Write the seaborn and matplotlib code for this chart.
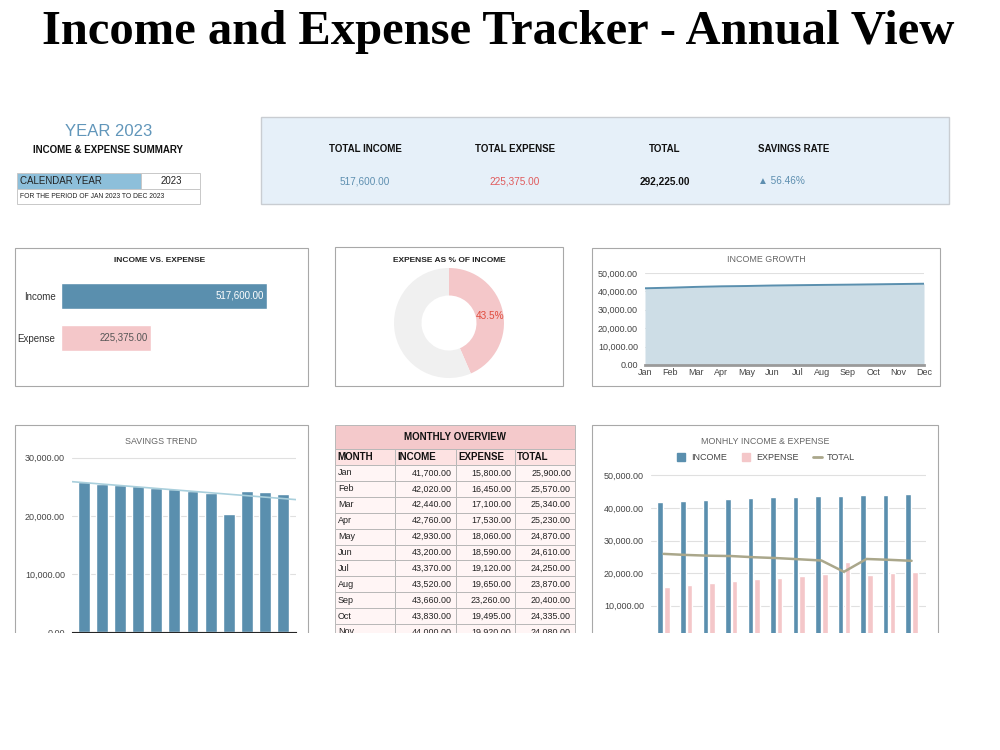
import numpy as np
import pandas as pd
import matplotlib.pyplot as plt
from matplotlib.patches import Rectangle
from matplotlib.lines import Line2D
import seaborn as sns

# Data
months = ['Jan', 'Feb', 'Mar', 'Apr', 'May', 'Jun', 'Jul', 'Aug', 'Sep', 'Oct', 'Nov', 'Dec']
income = [41700, 42020, 42440, 42760, 42930, 43200, 43370, 43520, 43660, 43830, 44000, 44170]
expense = [15800, 16450, 17100, 17530, 18060, 18590, 19120, 19650, 23260, 19495, 19920, 20400]
total = [25900, 25570, 25340, 25230, 24870, 24610, 24250, 23870, 20400, 24335, 24080, 23770]

total_income = 517600
total_expense = 225375
expense_pct = 43.5

kpi_labels = ['TOTAL INCOME', 'TOTAL EXPENSE', 'TOTAL', 'SAVINGS RATE']
kpi_values = ['517,600.00', '225,375.00', '292,225.00', '\u25B2 56.46%']

# Colours
BLUE = '#5a8fae'
PINK = '#f4c7c9'
AREA = '#cddde6'
OLIVE = '#aaa78b'
TREND = '#a9cfdc'
GRID = '#e0e0e0'
FRAME = '#a8a8a8'
TICK = '#444444'

sns.set_style('white')
plt.rcParams['font.family'] = ['Liberation Sans', 'DejaVu Sans']

W, H = 1000, 750


def rect(x0, y0, x1, y1):
    # pixel box -> figure fraction
    return [x0 / W, 1 - y1 / H, (x1 - x0) / W, (y1 - y0) / H]


def money(v):
    return f'{v:,.2f}'


fig = plt.figure(figsize=(10, 7.5), dpi=100)
bg = fig.add_axes([0, 0, 1, 1], zorder=-1)
bg.set_xlim(0, W)
bg.set_ylim(H, 0)
bg.axis('off')

bg.text(498, 44, 'Income and Expense Tracker - Annual View', ha='center', va='baseline',
        fontsize=35, family='Liberation Serif', weight='bold', color='black')

# --- summary block (top left)
bg.text(109, 131, 'YEAR 2023', ha='center', va='center', fontsize=12, color='#6196ba')
bg.text(108, 150, 'INCOME & EXPENSE SUMMARY', ha='center', va='center', fontsize=7, weight='bold', color='#111111')
bg.add_patch(Rectangle((17, 172.5), 124, 16, fc='#8dbfda', ec='#c8c8c8', lw=0.7))
bg.add_patch(Rectangle((141, 172.5), 59, 16, fc='white', ec='#c8c8c8', lw=0.7))
bg.add_patch(Rectangle((17, 188.5), 183, 15.5, fc='white', ec='#c8c8c8', lw=0.7))
bg.text(20, 181, 'CALENDAR YEAR', va='center', fontsize=7, color='#222222')
bg.text(171, 181, '2023', ha='center', va='center', fontsize=7, color='#222222')
bg.text(20, 197, 'FOR THE PERIOD OF JAN 2023 TO DEC 2023', va='center', fontsize=4.9, color='#222222')

# --- KPI box
bg.add_patch(Rectangle((261, 117), 688, 87, fc='#e6f0f9', ec='#c9cdd2', lw=1))
kpi_x = [365, 515, 665, 794]
kpi_colors = ['#5e8fb0', '#e05a5c', '#111111', '#5e8fb0']
for lab, val, x, c in zip(kpi_labels, kpi_values, kpi_x, kpi_colors):
    bg.text(x, 149, lab, ha='center', va='center', fontsize=7, weight='bold', color='#111111')
    bg.text(x if lab != 'SAVINGS RATE' else 781, 181, val, ha='center', va='center', fontsize=7.2,
            color=c, weight='bold' if lab == 'TOTAL' else 'normal')

# --- panel frames
for x0, y0, x1, y1 in [(15, 248, 308, 386), (335, 247, 563, 386), (592, 248, 940, 386),
                       (15, 425, 308, 700), (592, 425, 938, 700)]:
    bg.add_patch(Rectangle((x0, y0), x1 - x0, y1 - y0, fc='none', ec=FRAME, lw=0.8))

bg.text(160, 260, 'INCOME VS. EXPENSE', ha='center', va='center', fontsize=6, weight='bold', color='#222222')
bg.text(449, 260, 'EXPENSE AS % OF INCOME', ha='center', va='center', fontsize=6, weight='bold', color='#222222')
bg.text(766, 260, 'INCOME GROWTH', ha='center', va='center', fontsize=6.4, color='#666666')
bg.text(161, 441, 'SAVINGS TREND', ha='center', va='center', fontsize=6.4, color='#666666')
bg.text(765, 441, 'MONHLY INCOME & EXPENSE', ha='center', va='center', fontsize=6.4, color='#666666')


def style_value_axis(ax):
    ax.yaxis.set_major_formatter(lambda v, p: money(v))
    ax.tick_params(axis='y', labelsize=6.5, labelcolor=TICK, length=0, pad=5)
    ax.grid(axis='y', color=GRID, lw=0.8)
    ax.set_axisbelow(True)
    for s in ['left', 'right', 'top']:
        ax.spines[s].set_visible(False)
    ax.set_xlabel('')
    ax.set_ylabel('')


# --- income vs expense bars
ax1 = fig.add_axes(rect(61, 275, 290, 359))
sns.barplot(x=[total_income, total_expense], y=['Income', 'Expense'], hue=['Income', 'Expense'],
            palette=[BLUE, PINK], orient='h', width=0.64, saturation=1, legend=False, ax=ax1)
ax1.set_xlim(0, total_income * 229 / 206)
ax1.set_ylim(1.5, -0.5)
sns.despine(ax=ax1, left=True, bottom=True)
ax1.set_xticks([])
ax1.tick_params(axis='y', labelsize=7, labelcolor='#333333', length=0, pad=4)
ax1.set_xlabel('')
ax1.set_ylabel('')
ax1.text(total_income * 0.985, 0, money(total_income), ha='right', va='center', fontsize=7, color='white')
ax1.text(total_expense * 0.965, 1, money(total_expense), ha='right', va='center', fontsize=7, color='#555555')

# --- donut
ax2 = fig.add_axes(rect(394, 268, 504, 378))
ax2.pie([expense_pct, 100 - expense_pct], colors=[PINK, '#f0f0f0'], startangle=90, counterclock=False,
        wedgeprops=dict(width=0.5, linewidth=0))
ax2.set_xlim(-1, 1)
ax2.set_ylim(-1, 1)
ax2.text(0.75, 0.13, f'{expense_pct}%', ha='center', va='center', fontsize=7.2, color='#e04b3c')

# --- income growth area
ax3 = fig.add_axes(rect(645, 273, 924, 365))
ax3.fill_between(months, income, color=AREA, lw=0)
sns.lineplot(x=months, y=income, color=BLUE, lw=1.4, ax=ax3)
ax3.set_xlim(0, 11)
ax3.set_ylim(0, 50000)
ax3.set_yticks(range(0, 50001, 10000))
style_value_axis(ax3)
ax3.spines['bottom'].set_color('#9a9a9a')
ax3.spines['bottom'].set_linewidth(2)
ax3.tick_params(axis='x', labelsize=6.5, labelcolor=TICK, length=0, pad=2)

# --- savings trend
ax4 = fig.add_axes(rect(72, 452, 296, 632))
sns.barplot(x=np.arange(12), y=total, color=BLUE, width=0.66, saturation=1, native_scale=True, ax=ax4)
coef = np.polyfit(np.arange(12), total, 1)
xs = np.array([-0.66, 11.72])
ax4.plot(xs, np.polyval(coef, xs), color=TREND, lw=1.2)
ax4.set_xlim(-0.66, 11.72)
ax4.set_ylim(0, 31000)
ax4.set_yticks([0, 10000, 20000, 30000])
style_value_axis(ax4)
ax4.set_xticks([])

# --- monthly overview table
cols = [335, 395, 456, 515, 575]
row_h = 15.9
bg.add_patch(Rectangle((335, 425), 240, 24, fc='#f4c9cb', ec='#b8b8b8', lw=0.7))
bg.text(455, 437, 'MONTHLY OVERVIEW', ha='center', va='center', fontsize=7, weight='bold', color='#111111')
for j, head in enumerate(['MONTH', 'INCOME', 'EXPENSE', 'TOTAL']):
    bg.add_patch(Rectangle((cols[j], 449), cols[j + 1] - cols[j], 16, fc='#fde2e2', ec='#b8b8b8', lw=0.7))
    bg.text(cols[j] + 2, 457.5, head, va='center', fontsize=7, weight='bold', color='#111111')
for i, m in enumerate(months):
    y0 = 465 + i * row_h
    for j in range(4):
        bg.add_patch(Rectangle((cols[j], y0), cols[j + 1] - cols[j], row_h, fc='#fff5f5', ec='#b8b8b8', lw=0.7))
    yc = y0 + row_h / 2
    bg.text(cols[0] + 3, yc, m, va='center', fontsize=6.5, color='#222222')
    for j, v in enumerate([income[i], expense[i], total[i]]):
        bg.text(cols[j + 2] - 4, yc, money(v), ha='right', va='center', fontsize=6.4, color='#222222')

# --- monthly income & expense
ax6 = fig.add_axes(rect(651, 468.8, 926, 638.3))
df = pd.DataFrame({'month': list(range(12)) * 2,
                   'value': income + expense,
                   'kind': ['INCOME'] * 12 + ['EXPENSE'] * 12})
sns.barplot(data=df, x='month', y='value', hue='kind', palette=[BLUE, PINK], width=0.6, gap=0.18,
            saturation=1, native_scale=True, legend=False, ax=ax6)
sns.lineplot(x=np.arange(12), y=total, color=OLIVE, lw=1.8, ax=ax6)
ax6.set_xlim(-0.56, 11.64)
ax6.set_ylim(0, 52000)
ax6.set_yticks(range(0, 50001, 10000))
style_value_axis(ax6)
ax6.set_xticks([])
handles = [Line2D([], [], marker='s', ls='none', color=BLUE, markersize=6),
           Line2D([], [], marker='s', ls='none', color=PINK, markersize=6),
           Line2D([], [], color=OLIVE, lw=2)]
ax6.legend(handles, ['INCOME', 'EXPENSE', 'TOTAL'], loc='center', bbox_to_anchor=(766 / W, 1 - 458 / H),
           bbox_transform=fig.transFigure, ncol=3, frameon=False, fontsize=6.5, handlelength=1,
           handletextpad=0.6, columnspacing=1.6, labelcolor='#444444')

# the reference image is cropped just below the second row of panels
fig.add_artist(Rectangle((0, 0), 1, 1 - 633 / H, transform=fig.transFigure, fc='white', ec='none', zorder=50))

fig.savefig('out.png', dpi=100)
